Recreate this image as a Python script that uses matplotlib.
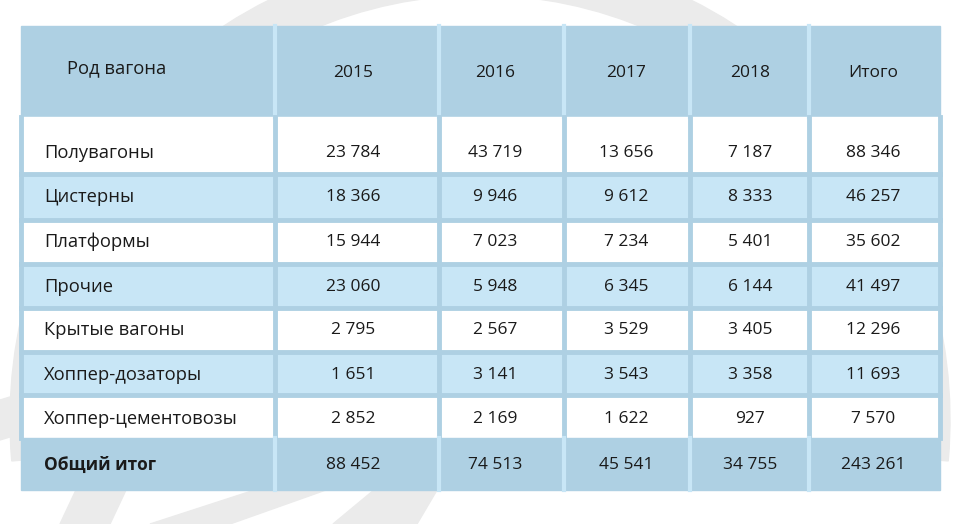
import matplotlib
matplotlib.use("Agg")
from matplotlib import pyplot as plt
from matplotlib.patches import Rectangle, Wedge, Polygon

# данные таблицы
header_first = "Род вагона"
years = ["2015", "2016", "2017", "2018", "Итого"]
wagon_types = ["Полувагоны", "Цистерны", "Платформы", "Прочие",
               "Крытые вагоны", "Хоппер-дозаторы", "Хоппер-цементовозы"]
v2015 = ["23 784", "18 366", "15 944", "23 060", "2 795", "1 651", "2 852"]
v2016 = ["43 719", "9 946", "7 023", "5 948", "2 567", "3 141", "2 169"]
v2017 = ["13 656", "9 612", "7 234", "6 345", "3 529", "3 543", "1 622"]
v2018 = ["7 187", "8 333", "5 401", "6 144", "3 405", "3 358", "927"]
v_total = ["88 346", "46 257", "35 602", "41 497", "12 296", "11 693", "7 570"]
total_label = "Общий итог"
totals = ["88 452", "74 513", "45 541", "34 755", "243 261"]

columns = [v2015, v2016, v2017, v2018, v_total]

# разметка (пиксели)
col_x = [21, 275, 439, 564, 690, 809, 940]
row_y = [26, 117, 174, 220, 264, 308, 352, 395, 438, 490]
text_x = [353, 495, 626, 750, 873]

c_head = "#aed0e3"
c_light = "#c8e6f6"
c_line = "#aed0e3"
c_text = "#1a1a1a"

plt.rcParams['font.family'] = ['Open Sans', 'DejaVu Sans']

fig = plt.figure(figsize=(9.65, 5.24), dpi=100)
ax = fig.add_axes([0, 0, 1, 1])
ax.set_xlim(0, 965)
ax.set_ylim(524, 0)
ax.axis('off')

# водяной знак на фоне
wm = "#ebebeb"
ax.add_patch(Wedge((480, 420), 470, 175, 365, width=45, color=wm, zorder=0))
ax.add_patch(Polygon([[60, 524], [110, 524], [300, 120], [250, 120]],
                     closed=True, color=wm, zorder=0))
ax.add_patch(Polygon([[0, 400], [0, 440], [330, 340], [330, 300]],
                     closed=True, color=wm, zorder=0))
ax.add_patch(Polygon([[150, 524], [230, 524], [340, 485], [270, 485]],
                     closed=True, color=wm, zorder=0))
ax.add_patch(Polygon([[333, 524], [417, 524], [440, 485], [380, 485]],
                     closed=True, color=wm, zorder=0))

W = col_x[-1] - col_x[0]

# шапка
ax.add_patch(Rectangle((col_x[0], row_y[0]), W, row_y[1] - row_y[0],
                       color=c_head, zorder=1))
# строки
for i in range(len(wagon_types)):
    y0, y1 = row_y[i + 1], row_y[i + 2]
    fc = c_light if i % 2 == 1 else "white"
    ax.add_patch(Rectangle((col_x[0], y0), W, y1 - y0, color=fc, zorder=1))
# итог
ax.add_patch(Rectangle((col_x[0], row_y[-2]), W, row_y[-1] - row_y[-2],
                       color=c_head, zorder=1))

# линии сетки
for x in col_x[1:-1]:
    ax.plot([x, x], [row_y[0], row_y[1]], color=c_light, lw=3, zorder=2)
    ax.plot([x, x], [row_y[1], row_y[-2]], color=c_line, lw=3.5, zorder=2)
    ax.plot([x, x], [row_y[-2], row_y[-1]], color=c_light, lw=3, zorder=2)
for x in [col_x[0], col_x[-1]]:
    ax.plot([x, x], [row_y[1], row_y[-2]], color=c_line, lw=3.5, zorder=2)
for y in row_y[2:-2]:
    ax.plot([col_x[0], col_x[-1]], [y, y], color=c_line, lw=3.5, zorder=2)

fs = 12.5
fs_lab = 13.2
ax.text(67, 68, header_first, fontsize=fs_lab, color=c_text, va='center', ha='left', zorder=3)
for j, name in enumerate(years):
    ax.text(text_x[j], 73, name, fontsize=fs, color=c_text, va='center', ha='center', zorder=3)

row_text_y = [153, 197, 242, 287, 330, 375, 419]
for i, name in enumerate(wagon_types):
    ax.text(44, row_text_y[i], name, fontsize=fs_lab, color=c_text, va='center', ha='left', zorder=3)
    for j, col in enumerate(columns):
        ax.text(text_x[j], row_text_y[i], col[i], fontsize=fs, color=c_text,
                va='center', ha='center', zorder=3)

ax.text(44, 465, total_label, fontsize=fs, color=c_text, va='center', ha='left',
        fontweight='bold', zorder=3)
for j, val in enumerate(totals):
    ax.text(text_x[j], 465, val, fontsize=fs, color=c_text, va='center', ha='center', zorder=3)

fig.savefig("out.png", dpi=100)
